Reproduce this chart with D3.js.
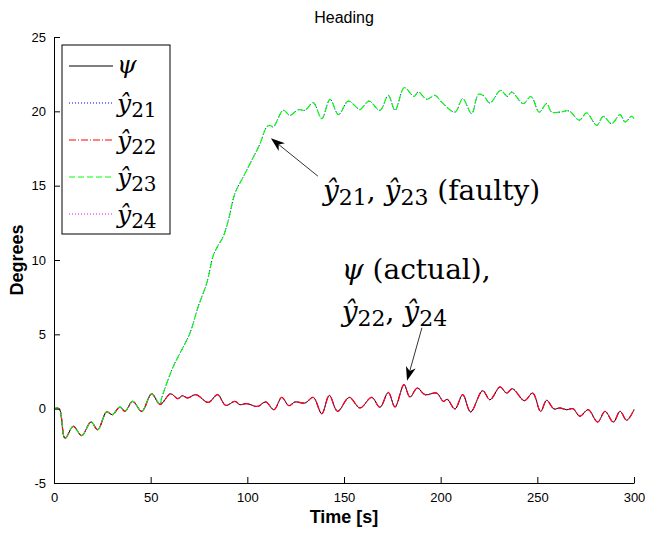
<!DOCTYPE html>
<html>
<head>
<meta charset="utf-8">
<script src="https://cdn.jsdelivr.net/npm/d3@7"></script>
<style>
    body { margin: 0; background: #fff; }
    text { fill: #000; }
</style>
</head>
<body>
<svg id="scene" width="645" height="533"></svg>
<script>
// heading readings (time in s, heading in degrees)
const actualTime = [0, 2.6, 5.7, 10, 14.3, 19.1, 22.6, 27.2, 30.2, 34.1, 36.7, 40.7, 45.4, 50.5, 54.8,
    60.3, 64, 66.4, 69.1, 73.4, 79.8, 84.6, 88.8, 93.6, 96.2, 99.7, 104, 105.7, 109.5, 113.8,
    117.8, 121.5, 124.7, 129.8, 134.1, 138.5, 142.4, 146.7, 152.7, 158.3, 164.3, 168.6, 172.9,
    176.4, 181, 184.1, 187.9, 191.9, 197.9, 201.4, 203.4, 207.4, 211.4, 215.5, 221.7, 225.5,
    230.7, 234.1, 237.1, 243.3, 247.6, 251.7, 254.8, 258.6, 261.7, 265.2, 268.4, 272, 276.3,
    281.2, 285, 289.3, 292.8, 296.2, 300];
const psiValues = [0, 0, -2.0, -1.19, -1.81, -0.9, -1.41, -0.22, -0.4, 0.11, -0.18, 0.49, -0.18, 1.0, 0.29,
    1.0, 0.67, 0.87, 0.72, 0.94, 0.42, 0.94, 0.22, 0.49, 0.27, 0.34, 0.16, 0.16, 0.45, -0.07,
    0.76, 0.2, 0.45, 0.38, 0.76, -0.34, 0.89, -0.18, 0.76, 0.05, 0.76, 0.09, 1.09,
    0.11, 1.61, 0.78, 1.39, 0.94, 1.05, 0.49, 0.63, -0.02, 0.94, -0.22, 1.21, 0.6,
    1.46, 1.05, 1.34, 0.54, 1.05, -0.18, 0.56, -0.02, 0.05, -0.07, 0, -0.51, -0.07,
    -0.9, -0.18, -0.9, -0.18, -0.78, -0.07];

// faulty estimates after they split from the real heading
const faultTime = [55.7, 61.7, 65.2, 70.3, 74.6, 79, 82.4, 85, 87.6, 90.2, 93.6, 97.9, 102.3, 106.6,
    110, 111.7, 113.4, 118.6, 122, 126.4, 129.8, 134.1, 138.5, 142.8, 147.1, 152.2, 156.6,
    158.3, 162.9, 168.6, 172.9, 176.4, 181.2, 186.2, 188.4, 192.8, 197.1, 200.5, 207.4,
    211.4, 216, 219.5, 222, 225.5, 231, 234.5, 236.7, 242.7, 246.7, 251, 254.8, 257.4,
    261.7, 266.5, 271.7, 275.5, 280.7, 284.1, 288.4, 292.8, 295.4, 298.8, 300];
const faultValues = [0.72, 2.84, 3.74, 5.08, 6.87, 8.44, 10.3, 11.0, 11.6, 12.68, 14.48, 15.59, 16.71, 17.83,
    18.95, 19.06, 18.95, 20.07, 19.73, 20.11, 20.07, 20.58, 19.51, 20.81, 19.78, 20.69, 20.25,
    20.11, 20.69, 20.07, 21.07, 20.07, 21.59, 21.0, 21.3, 20.81, 21.07, 20.62, 19.95,
    20.85, 19.85, 21.14, 21.07, 20.56, 21.41, 21.0, 21.3, 20.52, 21.0, 19.95, 20.52, 19.95,
    19.95, 20.02, 19.4, 19.89, 19.06, 19.66, 19.17, 19.78, 19.28, 19.68, 19.5];
const faultStart = 55;

const xTicks = [0, 50, 100, 150, 200, 250, 300];
const yTicks = [-5, 0, 5, 10, 15, 20, 25];

const margin = { top: 37, right: 11, bottom: 50, left: 54 };
const W = 645, H = 533;
const iw = W - margin.left - margin.right;
const ih = H - margin.top - margin.bottom;

const svg = d3.select("#scene");
const g = svg.append("g").attr("transform", `translate(${margin.left},${margin.top})`);

const x = d3.scaleLinear().domain([0, 300]).range([0, iw]);
const y = d3.scaleLinear().domain([-5, 25]).range([ih, 0]);

// build point lists
const actualPts = actualTime.map((t, i) => [t, psiValues[i]]);
const faultPts = actualPts.filter((d) => d[0] <= faultStart)
    .concat(faultTime.map((t, i) => [t, faultValues[i]]));

const series = [
    { key: "psi", pts: actualPts, color: "#000000", dash: null, w: 1 },
    { key: "y21", pts: faultPts, color: "#0000ff", dash: "1,2", w: 1 },
    { key: "y22", pts: actualPts, color: "#ff0000", dash: "7,2,1,2", w: 1.3 },
    { key: "y23", pts: faultPts, color: "#00ff00", dash: "6,3", w: 1.2 },
    { key: "y24", pts: actualPts, color: "#ff00ff", dash: "1,4", w: 1 },
];

const line = d3.line()
    .x((d) => x(d[0]))
    .y((d) => y(d[1]))
    .curve(d3.curveCatmullRom.alpha(0.5));

g.selectAll(".series")
    .data(series)
    .enter()
    .append("path")
    .attr("class", "series")
    .attr("d", (d) => line(d.pts))
    .attr("fill", "none")
    .attr("stroke", (d) => d.color)
    .attr("stroke-width", (d) => d.w)
    .attr("stroke-dasharray", (d) => d.dash);

// axes (ticks point inward, no box)
const xAxis = g.append("g")
    .attr("transform", `translate(0,${ih})`)
    .call(d3.axisBottom(x).tickValues(xTicks).tickFormat((d) => String(d))
        .tickSizeInner(-6).tickSizeOuter(0).tickPadding(10));
const yAxis = g.append("g")
    .call(d3.axisLeft(y).tickValues(yTicks).tickFormat((d) => String(d))
        .tickSizeInner(-6).tickSizeOuter(0).tickPadding(8));

[xAxis, yAxis].forEach((a) => {
    a.select(".domain").attr("stroke", "#000");
    a.selectAll(".tick line").attr("stroke", "#000");
    a.selectAll(".tick text")
        .style("font-family", "'Liberation Sans', Arial, sans-serif")
        .style("font-size", "13px")
        .attr("fill", "#000");
});

// title and axis labels
svg.append("text")
    .attr("x", margin.left + iw / 2)
    .attr("y", 23)
    .attr("text-anchor", "middle")
    .style("font-family", "'Liberation Sans', Arial, sans-serif")
    .style("font-size", "16px")
    .text("Heading");

svg.append("text")
    .attr("x", margin.left + iw / 2)
    .attr("y", 523)
    .attr("text-anchor", "middle")
    .style("font-family", "'Liberation Sans', Arial, sans-serif")
    .style("font-size", "18px")
    .style("font-weight", "bold")
    .text("Time [s]");

svg.append("text")
    .attr("transform", `translate(23,${margin.top + ih / 2}) rotate(-90)`)
    .attr("text-anchor", "middle")
    .style("font-family", "'Liberation Sans', Arial, sans-serif")
    .style("font-size", "18px")
    .style("font-weight", "bold")
    .text("Degrees");

// math-ish text: parts are [text, kind] with kind i (italic), r (roman), s (subscript)
function mathText(parent, px, py, parts, size) {
    const t = parent.append("text")
        .attr("x", px)
        .attr("y", py)
        .style("font-family", "'DejaVu Serif', serif")
        .style("font-size", size + "px");
    let down = false;
    parts.forEach(([str, kind]) => {
        const sp = t.append("tspan").text(str);
        if (kind === "i") sp.style("font-style", "italic");
        if (kind === "s") {
            sp.style("font-size", Math.round(size * 0.78) + "px");
            if (!down) { sp.attr("dy", 5); down = true; }
        } else if (down) {
            sp.attr("dy", -5);
            down = false;
        }
    });
    return t;
}

// legend
const legend = svg.append("g").attr("transform", "translate(62,45)");
legend.append("rect")
    .attr("width", 108)
    .attr("height", 189)
    .attr("fill", "#fff")
    .attr("stroke", "#000")
    .attr("stroke-width", 1);

const legendLabels = [
    [["ψ", "i"]],
    [["ŷ", "i"], ["21", "s"]],
    [["ŷ", "i"], ["22", "s"]],
    [["ŷ", "i"], ["23", "s"]],
    [["ŷ", "i"], ["24", "s"]],
];
series.forEach((s, i) => {
    const ly = 21 + i * 37;
    legend.append("line")
        .attr("x1", 7).attr("x2", 51)
        .attr("y1", ly).attr("y2", ly)
        .attr("stroke", s.color)
        .attr("stroke-width", 1)
        .attr("stroke-dasharray", s.dash ? s.dash.replace("1,4", "1,2") : null);
    mathText(legend, 55, ly + (i === 0 ? 7 : 9), legendLabels[i], 25);
});

// annotations with arrows (placed in data coordinates)
const arrows = [
    { from: [136.5, 15.64], to: [112.2, 18.19] },
    { from: [190.3, 5.44], to: [182.6, 1.88] },
];
arrows.forEach((a) => {
    const x0 = x(a.from[0]), y0 = y(a.from[1]);
    const x1 = x(a.to[0]), y1 = y(a.to[1]);
    const ang = Math.atan2(y1 - y0, x1 - x0);
    const len = 14, half = 5, notch = 10;
    const ux = Math.cos(ang), uy = Math.sin(ang);
    const bx = x1 - ux * len, by = y1 - uy * len;
    const nx = x1 - ux * notch, ny = y1 - uy * notch;
    g.append("line")
        .attr("x1", x0).attr("y1", y0)
        .attr("x2", nx).attr("y2", ny)
        .attr("stroke", "#000").attr("stroke-width", 0.8);
    g.append("path")
        .attr("d", `M${x1},${y1}L${bx - uy * half},${by + ux * half}L${nx},${ny}L${bx + uy * half},${by - ux * half}Z`)
        .attr("fill", "#000");
});

mathText(g, x(139.1), y(14.03),
    [["ŷ", "i"], ["21", "s"], [", ", "r"], ["ŷ", "i"], ["23", "s"], [" (faulty)", "r"]], 28);
mathText(g, x(148.8), y(8.72), [["ψ", "i"], [" (actual),", "r"]], 28);
mathText(g, x(148.8), y(5.9),
    [["ŷ", "i"], ["22", "s"], [", ", "r"], ["ŷ", "i"], ["24", "s"]], 28);
</script>
</body>
</html>
